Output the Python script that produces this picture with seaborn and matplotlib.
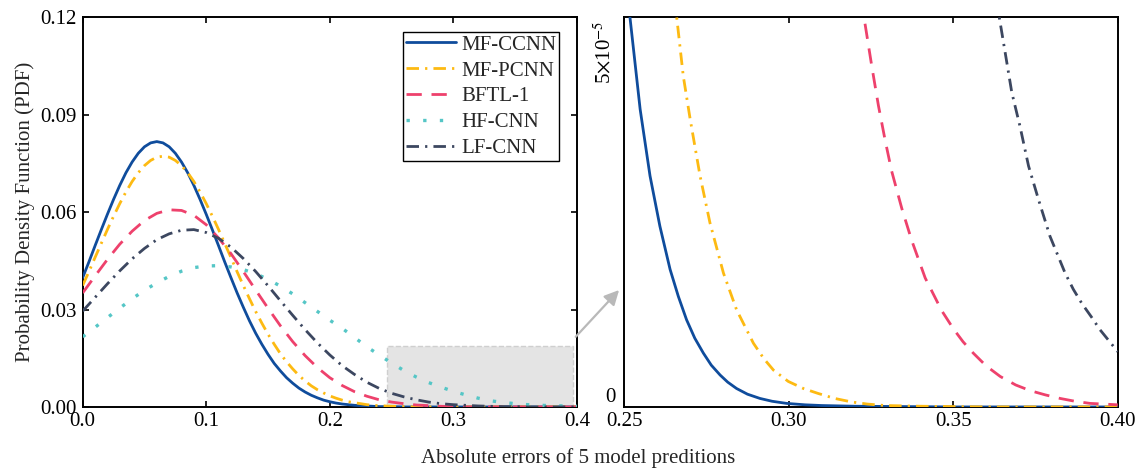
import matplotlib
matplotlib.use("Agg")
import matplotlib.pyplot as plt
import seaborn as sns
from matplotlib.patches import Rectangle, ConnectionPatch

# ---------------- data ----------------
models = ["MF-CCNN", "MF-PCNN", "BFTL-1", "HF-CNN", "LF-CNN"]

# fine grid used for the two narrow curves
x_fine = [0.000, 0.005, 0.010, 0.015, 0.020, 0.025, 0.030, 0.035, 0.040, 0.045,
          0.050, 0.055, 0.060, 0.065, 0.070, 0.075, 0.080, 0.085, 0.090, 0.095,
          0.100, 0.105, 0.110, 0.115, 0.120, 0.125, 0.130, 0.135, 0.140, 0.145,
          0.150, 0.155, 0.160, 0.165, 0.170, 0.175, 0.180, 0.185, 0.190, 0.195,
          0.200, 0.205, 0.210, 0.215, 0.220, 0.225, 0.230, 0.235, 0.240, 0.245,
          0.250, 0.26, 0.27, 0.28, 0.29, 0.30, 0.31, 0.32, 0.33, 0.34,
          0.35, 0.36, 0.37, 0.38, 0.39, 0.40]
pdf_mfccnn = [0.0398, 0.0446, 0.0496, 0.0545, 0.0593, 0.0639, 0.0682, 0.0721, 0.0754, 0.0781,
              0.0801, 0.0813, 0.0817, 0.0813, 0.0801, 0.0781, 0.0754, 0.0721, 0.0682, 0.0639,
              0.0593, 0.0545, 0.0496, 0.0446, 0.0398, 0.0351, 0.0307, 0.0265, 0.0227, 0.0193,
              0.0162, 0.0134, 0.0111, 0.0090, 0.0073, 0.0058, 0.0046, 0.0036, 0.0028, 0.0021,
              0.0016, 0.0012, 0.0009, 0.0007, 0.0005, 0.0004, 0.0003, 0.0002, 0.0001, 0.0001,
              0.0001, 0.0000, 0.0000, 0.0000, 0.0000, 0.0000, 0.0000, 0.0000, 0.0000, 0.0000,
              0.0000, 0.0000, 0.0000, 0.0000, 0.0000, 0.0000]
pdf_mfpcnn = [0.0374, 0.0416, 0.0460, 0.0503, 0.0546, 0.0587, 0.0626, 0.0662, 0.0694, 0.0721,
              0.0743, 0.0759, 0.0769, 0.0772, 0.0769, 0.0759, 0.0743, 0.0721, 0.0694, 0.0662,
              0.0626, 0.0587, 0.0546, 0.0503, 0.0460, 0.0416, 0.0374, 0.0333, 0.0294, 0.0258,
              0.0224, 0.0193, 0.0164, 0.0139, 0.0117, 0.0097, 0.0080, 0.0065, 0.0053, 0.0043,
              0.0034, 0.0027, 0.0021, 0.0016, 0.0013, 0.0010, 0.0007, 0.0005, 0.0004, 0.0003,
              0.0002, 0.0001, 0.0000, 0.0000, 0.0000, 0.0000, 0.0000, 0.0000, 0.0000, 0.0000,
              0.0000, 0.0000, 0.0000, 0.0000, 0.0000, 0.0000]

# regular grid for the three wider curves
x_err = [0.00, 0.01, 0.02, 0.03, 0.04, 0.05, 0.06, 0.07, 0.08, 0.09,
         0.10, 0.11, 0.12, 0.13, 0.14, 0.15, 0.16, 0.17, 0.18, 0.19,
         0.20, 0.21, 0.22, 0.23, 0.24, 0.25, 0.26, 0.27, 0.28, 0.29,
         0.30, 0.31, 0.32, 0.33, 0.34, 0.35, 0.36, 0.37, 0.38, 0.39, 0.40]
pdf_bftl1 = [0.0351, 0.0403, 0.0454, 0.0501, 0.0541, 0.0574, 0.0596, 0.0607, 0.0605, 0.0590,
             0.0561, 0.0520, 0.0472, 0.0417, 0.0360, 0.0304, 0.0250, 0.0201, 0.0158, 0.0121,
             0.0090, 0.0066, 0.0047, 0.0033, 0.0022, 0.0015, 0.0010, 0.0006, 0.0004, 0.0002,
             0.0001, 0.0000, 0.0000, 0.0000, 0.0000, 0.0000, 0.0000, 0.0000, 0.0000, 0.0000, 0.0000]
pdf_hfcnn = [0.0216, 0.0245, 0.0275, 0.0304, 0.0333, 0.0359, 0.0382, 0.0402, 0.0418, 0.0429,
             0.0434, 0.0435, 0.0431, 0.0423, 0.0410, 0.0393, 0.0372, 0.0348, 0.0321, 0.0294,
             0.0267, 0.0242, 0.0214, 0.0185, 0.0160, 0.0135, 0.0112, 0.0092, 0.0075, 0.0061,
             0.0048, 0.0037, 0.0027, 0.0019, 0.0014, 0.0010, 0.0007, 0.0005, 0.0004, 0.0003, 0.0002]
pdf_lfcnn = [0.0295, 0.0337, 0.0379, 0.0419, 0.0456, 0.0488, 0.0515, 0.0533, 0.0544, 0.0546,
             0.0537, 0.0519, 0.0492, 0.0457, 0.0417, 0.0373, 0.0327, 0.0282, 0.0238, 0.0197,
             0.0160, 0.0127, 0.0100, 0.0076, 0.0057, 0.0042, 0.0031, 0.0022, 0.0015, 0.0010,
             0.0007, 0.0005, 0.0003, 0.0002, 0.0001, 0.0001, 0.0000, 0.0000, 0.0000, 0.0000, 0.0000]

# zoomed tail readings (right panel), values in units of 1e-5
zoom_x_mfccnn = [0.2500, 0.2518, 0.2549, 0.2579, 0.2609, 0.2640, 0.2665, 0.2690, 0.2715, 0.2741,
                 0.2765, 0.2792, 0.2815, 0.2842, 0.2875, 0.2913, 0.2950, 0.2994, 0.3050, 0.3100,
                 0.3200, 0.3350, 0.3500, 0.4000]
zoom_y_mfccnn = [6.25, 5.50, 4.20, 3.26, 2.55, 1.94, 1.56, 1.23, 0.97, 0.76,
                 0.59, 0.45, 0.35, 0.26, 0.18, 0.12, 0.08, 0.05, 0.03, 0.02,
                 0.01, 0.005, 0.00, 0.00]
zoom_x_mfpcnn = [0.2640, 0.2660, 0.2680, 0.2701, 0.2731, 0.2761, 0.2802, 0.2842, 0.2893, 0.2925,
                 0.2954, 0.2999, 0.3045, 0.3090, 0.3140, 0.3192, 0.3240, 0.3293, 0.3400, 0.3600,
                 0.4000]
zoom_y_mfpcnn = [6.33, 5.50, 4.67, 4.06, 3.26, 2.60, 1.89, 1.37, 0.90, 0.68,
                 0.52, 0.36, 0.26, 0.19, 0.12, 0.07, 0.04, 0.02, 0.01, 0.00,
                 0.00]
zoom_x_bftl1 = [0.3200, 0.3229, 0.3253, 0.3273, 0.3293, 0.3313, 0.3344, 0.3374, 0.3415, 0.3465,
                0.3501, 0.3530, 0.3561, 0.3600, 0.3643, 0.3690, 0.3734, 0.3780, 0.3825, 0.3870,
                0.3916, 0.3960, 0.4000]
zoom_y_bftl1 = [6.50, 5.50, 4.80, 4.25, 3.77, 3.33, 2.80, 2.35, 1.82, 1.36,
                1.10, 0.92, 0.76, 0.58, 0.43, 0.31, 0.23, 0.17, 0.12, 0.08,
                0.05, 0.04, 0.03]
zoom_x_lfcnn = [0.3620, 0.3640, 0.3658, 0.3678, 0.3703, 0.3729, 0.3759, 0.3794, 0.3840, 0.3865,
                0.3891, 0.3920, 0.3946, 0.4000]
zoom_y_lfcnn = [6.06, 5.50, 5.00, 4.44, 3.96, 3.40, 2.93, 2.41, 1.89, 1.66,
                1.46, 1.27, 1.09, 0.78]

left_xticks = [0.0, 0.1, 0.2, 0.3, 0.4]
left_xticklabels = ["0.0", "0.1", "0.2", "0.3", "0.4"]
left_yticks = [0.00, 0.03, 0.06, 0.09, 0.12]
left_yticklabels = ["0.00", "0.03", "0.06", "0.09", "0.12"]
right_xticks = [0.25, 0.30, 0.35, 0.40]
right_xticklabels = ["0.25", "0.30", "0.35", "0.40"]
right_yticks = [0.0, 5e-5]
right_yticklabels = ["0", "5$\\times$10$^{-5}$"]

# ---------------- style ----------------
sns.set_theme(style="ticks")
plt.rcParams["font.family"] = ["Liberation Serif", "DejaVu Serif"]
plt.rcParams["mathtext.fontset"] = "stix"

colors = {"MF-CCNN": "#0F4C9C", "MF-PCNN": "#FDBA12", "BFTL-1": "#EE416C",
          "HF-CNN": "#55C6C6", "LF-CNN": "#3C4760"}
styles = {"MF-CCNN": "-",
          "MF-PCNN": (0, (4.5, 2.2, 0.8, 2.2)),
          "BFTL-1": (0, (5.5, 3.5)),
          "HF-CNN": (0, (1.0, 4.0)),
          "LF-CNN": (0, (4.5, 2.2, 0.8, 2.2))}
widths = {"MF-CCNN": 2.0, "MF-PCNN": 2.0, "BFTL-1": 2.0, "HF-CNN": 2.4, "LF-CNN": 2.0}

FS = 15

fig = plt.figure(figsize=(11.45, 4.71), dpi=100)
ax1 = fig.add_axes([0.0722, 0.136, 0.4317, 0.8275])
ax2 = fig.add_axes([0.545, 0.136, 0.4312, 0.8275])

series_left = [(x_fine, pdf_mfccnn), (x_fine, pdf_mfpcnn), (x_err, pdf_bftl1),
               (x_err, pdf_hfcnn), (x_err, pdf_lfcnn)]
for name, (xs, ys) in zip(models, series_left):
    sns.lineplot(x=xs, y=ys, ax=ax1, color=colors[name], label=name,
                 linestyle=styles[name], linewidth=widths[name], zorder=3)

ax1.add_patch(Rectangle((0.246, 0.0), 0.151, 0.0188, facecolor="#e4e4e4",
                        edgecolor="#cfcfcf", linestyle="--", linewidth=1.0, zorder=1))

ax1.set_xlim(0, 0.4)
ax1.set_ylim(0, 0.12)
ax1.set_xticks(left_xticks)
ax1.set_xticklabels(left_xticklabels)
ax1.set_yticks(left_yticks)
ax1.set_yticklabels(left_yticklabels)
ax1.set_ylabel("Probability Density Function (PDF)", fontsize=FS, labelpad=4)
ax1.set_xlabel("")

leg = ax1.legend(loc="upper right", bbox_to_anchor=(0.964, 0.962), borderaxespad=0,
                 fontsize=FS, frameon=True, fancybox=False, framealpha=1,
                 edgecolor="black", borderpad=0.15, handlelength=2.4,
                 handletextpad=0.25, labelspacing=0.3)
leg.get_frame().set_linewidth(1.0)

zoom_series = [(zoom_x_mfccnn, zoom_y_mfccnn, "MF-CCNN"),
               (zoom_x_mfpcnn, zoom_y_mfpcnn, "MF-PCNN"),
               (zoom_x_bftl1, zoom_y_bftl1, "BFTL-1"),
               (zoom_x_lfcnn, zoom_y_lfcnn, "LF-CNN")]
for xs, ys, name in zoom_series:
    sns.lineplot(x=xs, y=[v * 1e-5 for v in ys], ax=ax2, color=colors[name],
                 linestyle=styles[name], linewidth=widths[name], legend=False, zorder=3)

ax2.set_xlim(0.25, 0.40)
ax2.set_ylim(0, 5.5e-5)
ax2.set_xticks(right_xticks)
ax2.set_xticklabels(right_xticklabels)
ax2.set_yticks(right_yticks)
ax2.set_yticklabels(right_yticklabels)

for ax in (ax1, ax2):
    for sp in ax.spines.values():
        sp.set_visible(True)
        sp.set_linewidth(1.4)
        sp.set_color("black")
    ax.tick_params(axis="both", direction="in", top=True, right=True, length=4,
                   width=1.2, labelsize=FS, colors="black", pad=4)
ax2.tick_params(axis="y", length=0, pad=6)

ylabs = ax2.get_yticklabels()
ylabs[0].set_va("bottom")
ylabs[1].set_rotation(90)
ylabs[1].set_va("center")
ylabs[1].set_fontsize(15)

fig.text(0.505, 0.028, "Absolute errors of 5 model preditions", ha="center", va="center",
         fontsize=FS)

arrow = ConnectionPatch(xyA=(0.399, 0.0216), coordsA=ax1.transData,
                        xyB=(0.2485, 1.65e-5), coordsB=ax2.transData,
                        arrowstyle="-|>", color="#b9b9b9", linewidth=1.6,
                        mutation_scale=22)
fig.add_artist(arrow)

fig.savefig("out.png", dpi=100)
